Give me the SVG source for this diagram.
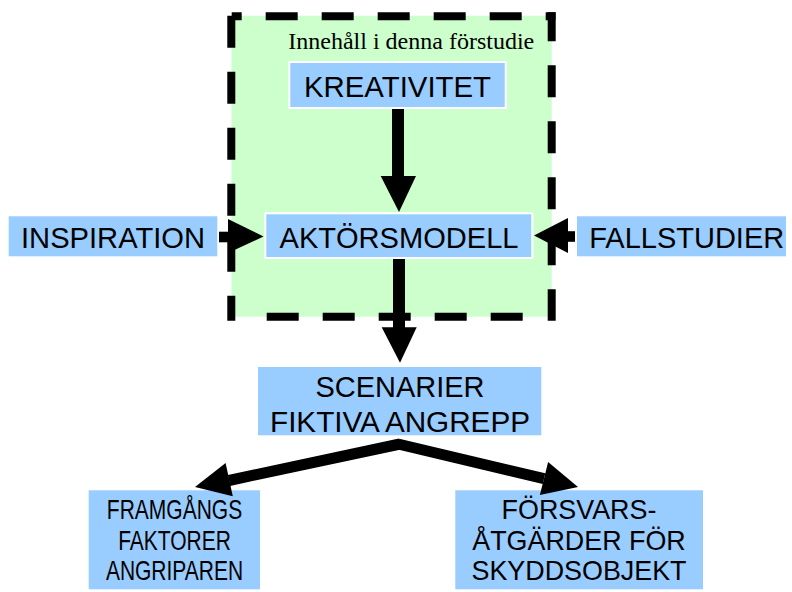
<svg xmlns="http://www.w3.org/2000/svg" width="792" height="592" viewBox="0 0 792 592">
<style>
.box{fill:#99CCFF;stroke:#FFFFFF;stroke-width:2}
.t{font-family:"Liberation Sans",Arial,sans-serif;font-size:29px;fill:#000;text-anchor:middle}
.tb{font-family:"Liberation Sans",Arial,sans-serif;font-size:28px;fill:#000;text-anchor:middle}
.dash{stroke:#000;stroke-width:8;stroke-dasharray:32 24;fill:none}
.shaft{stroke:#000;fill:none}
.head{fill:#000}
</style>
<rect x="0" y="0" width="792" height="592" fill="#FFFFFF"/>
<g id="scope">
<rect x="231.5" y="15.7" width="320.2" height="301" fill="#CCFFCC"/>
<line class="dash" x1="231.7" y1="16.3" x2="555.5" y2="16.3" stroke-dashoffset="22"/>
<line class="dash" x1="551.7" y1="12.3" x2="551.7" y2="320.7" stroke-dashoffset="3"/>
<line class="dash" x1="266.7" y1="316.7" x2="522.7" y2="316.7"/>
<line class="dash" x1="231.3" y1="15.7" x2="231.3" y2="320.7"/>
<text x="288.3" y="49" font-family="'Liberation Serif','Times New Roman',serif" font-size="24" fill="#000">Innehåll i denna förstudie</text>
</g>
<g id="kreativitet">
<rect class="box" x="289.3" y="62" width="216.4" height="46"/>
<text class="t" x="397.5" y="97" textLength="187" lengthAdjust="spacingAndGlyphs">KREATIVITET</text>
</g>
<g id="inspiration">
<rect class="box" x="7.7" y="215.3" width="210.6" height="42"/>
<text class="t" x="113" y="248" textLength="184" lengthAdjust="spacingAndGlyphs">INSPIRATION</text>
</g>
<g id="aktorsmodell">
<rect class="box" x="265.3" y="213.3" width="267" height="44.7"/>
<text class="t" x="399" y="248" textLength="239" lengthAdjust="spacingAndGlyphs">AKTÖRSMODELL</text>
</g>
<g id="fallstudier">
<rect class="box" x="576" y="215.3" width="211" height="42"/>
<text class="t" x="686.7" y="248" textLength="195" lengthAdjust="spacingAndGlyphs">FALLSTUDIER</text>
</g>
<g id="scenarier">
<rect class="box" x="257" y="366" width="285.3" height="70.3"/>
<text class="t" x="400" y="396.7" textLength="169" lengthAdjust="spacingAndGlyphs">SCENARIER</text>
<text class="t" x="400" y="431.7" textLength="260" lengthAdjust="spacingAndGlyphs">FIKTIVA ANGREPP</text>
</g>
<g id="framgangs">
<rect class="box" x="87.7" y="489.3" width="173.3" height="101"/>
<g transform="translate(174.5,0) scale(0.75,1)">
<text class="tb" x="0" y="519.3">FRAMGÅNGS</text>
<text class="tb" x="0" y="550">FAKTORER</text>
<text class="tb" x="0" y="580">ANGRIPAREN</text>
</g>
</g>
<g id="forsvars">
<rect class="box" x="454.3" y="489.3" width="249.7" height="101"/>
<g transform="translate(579,0) scale(0.96,1)">
<text class="tb" x="0" y="519.3">FÖRSVARS-</text>
<text class="tb" x="0" y="550">ÅTGÄRDER FÖR</text>
<text class="tb" x="0" y="580">SKYDDSOBJEKT</text>
</g>
</g>
<g id="connectors">
<line class="shaft" x1="398" y1="109" x2="398" y2="177" stroke-width="12"/>
<polygon class="head" points="380.7,176 416,176 399,212"/>
<line class="shaft" x1="399" y1="259" x2="399" y2="328" stroke-width="12"/>
<polygon class="head" points="381.7,327.3 416.7,327.3 400,362.7"/>
<line class="shaft" x1="219" y1="237" x2="229" y2="237" stroke-width="10.6"/>
<polygon class="head" points="228,219 228,253 263.5,236.5"/>
<line class="shaft" x1="567" y1="236.5" x2="575" y2="236.5" stroke-width="10.6"/>
<polygon class="head" points="568,218 568,253 534,235.5"/>
<line class="shaft" x1="400" y1="444" x2="229" y2="480.5" stroke-width="11"/>
<polygon class="head" points="225.6,463.1 232.8,496.3 195,487"/>
<line class="shaft" x1="398" y1="444" x2="544" y2="478.6" stroke-width="11"/>
<polygon class="head" points="548.1,462.1 539.9,495.1 578,487"/>
</g>
</svg>
